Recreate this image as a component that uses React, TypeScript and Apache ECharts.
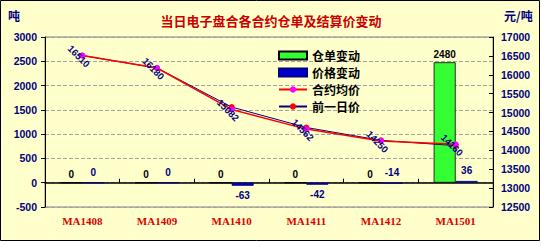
import React, { useEffect, useRef } from "react";
import * as echarts from "echarts";

const categories = ["MA1408", "MA1409", "MA1410", "MA1411", "MA1412", "MA1501"];
const warehouseChange = [0, 0, 0, 0, 0, 2480];
const priceChange = [0, 0, -63, -42, -14, 36];
const avgPrice = [16510, 16180, 15082, 14562, 14250, 14160];
const prevPrice = [16510, 16180, 15145, 14604, 14264, 14124];

const titleText = "当日电子盘合各合约仓单及结算价变动";
const leftUnit = "吨";
const rightUnit = "元/吨";

const NAVY = "#000080";
const num = "Liberation Sans";

export default function App() {
  const ref = useRef<HTMLDivElement>(null);
  useEffect(() => {
    if (!ref.current) return;
    const chart = echarts.init(ref.current, null, { renderer: "svg" });
    chart.setOption({
      animation: false,
      backgroundColor: "#ffffff",
      graphic: [
        {
          type: "rect",
          shape: { x: 0.5, y: 0.5, width: 539, height: 240 },
          style: { fill: "#FFFFCC", stroke: "#000000", lineWidth: 1 },
          z: -10,
        },
        {
          type: "text",
          left: 8,
          top: 9,
          style: { text: leftUnit, fill: NAVY, font: "bold 12px 'Noto Sans CJK SC'" },
        },
        {
          type: "text",
          left: 504,
          top: 9,
          style: { text: rightUnit, fill: NAVY, font: "bold 12px 'Noto Sans CJK SC'" },
        },
      ],
      title: {
        text: titleText,
        left: "center",
        top: 9,
        textStyle: { color: "#CC0000", fontSize: 13, fontWeight: "bold", fontFamily: "Noto Sans CJK SC" },
      },
      legend: {
        orient: "vertical",
        left: 273,
        top: 44,
        itemWidth: 28,
        itemHeight: 8,
        itemGap: 4,
        textStyle: { color: "#000", fontSize: 12, fontWeight: "bold", lineHeight: 13, fontFamily: "Noto Sans CJK SC" },
        data: [
          { name: "仓单变动", icon: "rect" },
          { name: "价格变动", icon: "rect" },
          { name: "合约均价" },
          { name: "前一日价" },
        ],
      },
      grid: {
        left: 45,
        right: 49,
        top: 37,
        bottom: 40,
        show: true,
        borderColor: "#808080",
        borderWidth: 1,
        backgroundColor: "transparent",
      },
      xAxis: [
        {
          type: "category",
          data: categories,
          axisLine: { onZero: true, onZeroAxisIndex: 0, lineStyle: { color: "#000", width: 1.5 } },
          axisTick: { show: true, inside: true, length: 4, lineStyle: { color: "#000" } },
          axisLabel: { show: false },
        },
        {
          type: "category",
          data: categories,
          position: "bottom",
          axisLine: { show: false, onZero: false },
          axisTick: { show: false },
          axisLabel: {
            color: "#DD0000",
            fontWeight: "bold",
            fontSize: 11,
            fontFamily: "Liberation Serif",
            margin: 8,
          },
        },
      ],
      yAxis: [
        {
          type: "value",
          min: -500,
          max: 3000,
          interval: 500,
          position: "left",
          axisLine: { show: true, lineStyle: { color: "#000" } },
          axisTick: { show: true, length: 4, lineStyle: { color: "#000" } },
          axisLabel: {
            color: NAVY,
            fontWeight: "bold",
            fontSize: 10.5,
            fontFamily: num,
            margin: 8,
            formatter: (v: number) => String(v),
          },
          splitLine: { show: true, lineStyle: { color: "#A0A0A0", type: "dashed" } },
        },
        {
          type: "value",
          min: 12500,
          max: 17000,
          interval: 500,
          position: "right",
          axisLine: { show: true, lineStyle: { color: "#000" } },
          axisTick: { show: true, inside: true, length: 4, lineStyle: { color: "#000" } },
          axisLabel: {
            color: NAVY,
            fontWeight: "bold",
            fontSize: 10.5,
            fontFamily: num,
            margin: 8,
            formatter: (v: number) => String(v),
          },
          splitLine: { show: false },
        },
      ],
      series: [
        {
          name: "仓单变动",
          type: "bar",
          xAxisIndex: 0,
          yAxisIndex: 0,
          barWidth: 22,
          barGap: "0%",
          itemStyle: { color: "#33FF33", borderColor: "#000", borderWidth: 0.8 },
          label: {
            show: true,
            position: "top",
            distance: 3,
            color: "#000",
            fontWeight: "bold",
            fontSize: 10,
            fontFamily: num,
          },
          data: warehouseChange,
        },
        {
          name: "价格变动",
          type: "bar",
          xAxisIndex: 0,
          yAxisIndex: 0,
          barWidth: 22,
          barGap: "0%",
          itemStyle: { color: "#0000CC", borderColor: NAVY, borderWidth: 0.8 },
          label: {
            show: true,
            color: NAVY,
            fontWeight: "bold",
            fontSize: 10,
            fontFamily: num,
            distance: 5,
          },
          data: priceChange.map((v) => ({
            value: v,
            label: { position: v < -20 ? "bottom" : "top" },
          })),
        },
        {
          name: "合约均价",
          type: "line",
          xAxisIndex: 0,
          yAxisIndex: 1,
          symbol: "circle",
          symbolSize: 6,
          lineStyle: { color: "#FF0000", width: 1.5 },
          itemStyle: { color: "#FF00FF" },
          label: {
            show: true,
            position: "inside",
            rotate: -45,
            offset: [-2, 3],
            color: NAVY,
            fontWeight: "bold",
            fontSize: 9.5,
            fontFamily: num,
          },
          data: avgPrice,
          z: 3,
        },
        {
          name: "前一日价",
          type: "line",
          xAxisIndex: 0,
          yAxisIndex: 1,
          symbol: "circle",
          symbolSize: 6,
          lineStyle: { color: "#000080", width: 1 },
          itemStyle: { color: "#FF0000" },
          data: prevPrice,
          z: 2,
        },
      ],
    });
    return () => chart.dispose();
  }, []);
  return (
    <div
      ref={ref}
      style={{ position: "fixed", left: 0, top: 0, width: 542, height: 247 }}
    />
  );
}
